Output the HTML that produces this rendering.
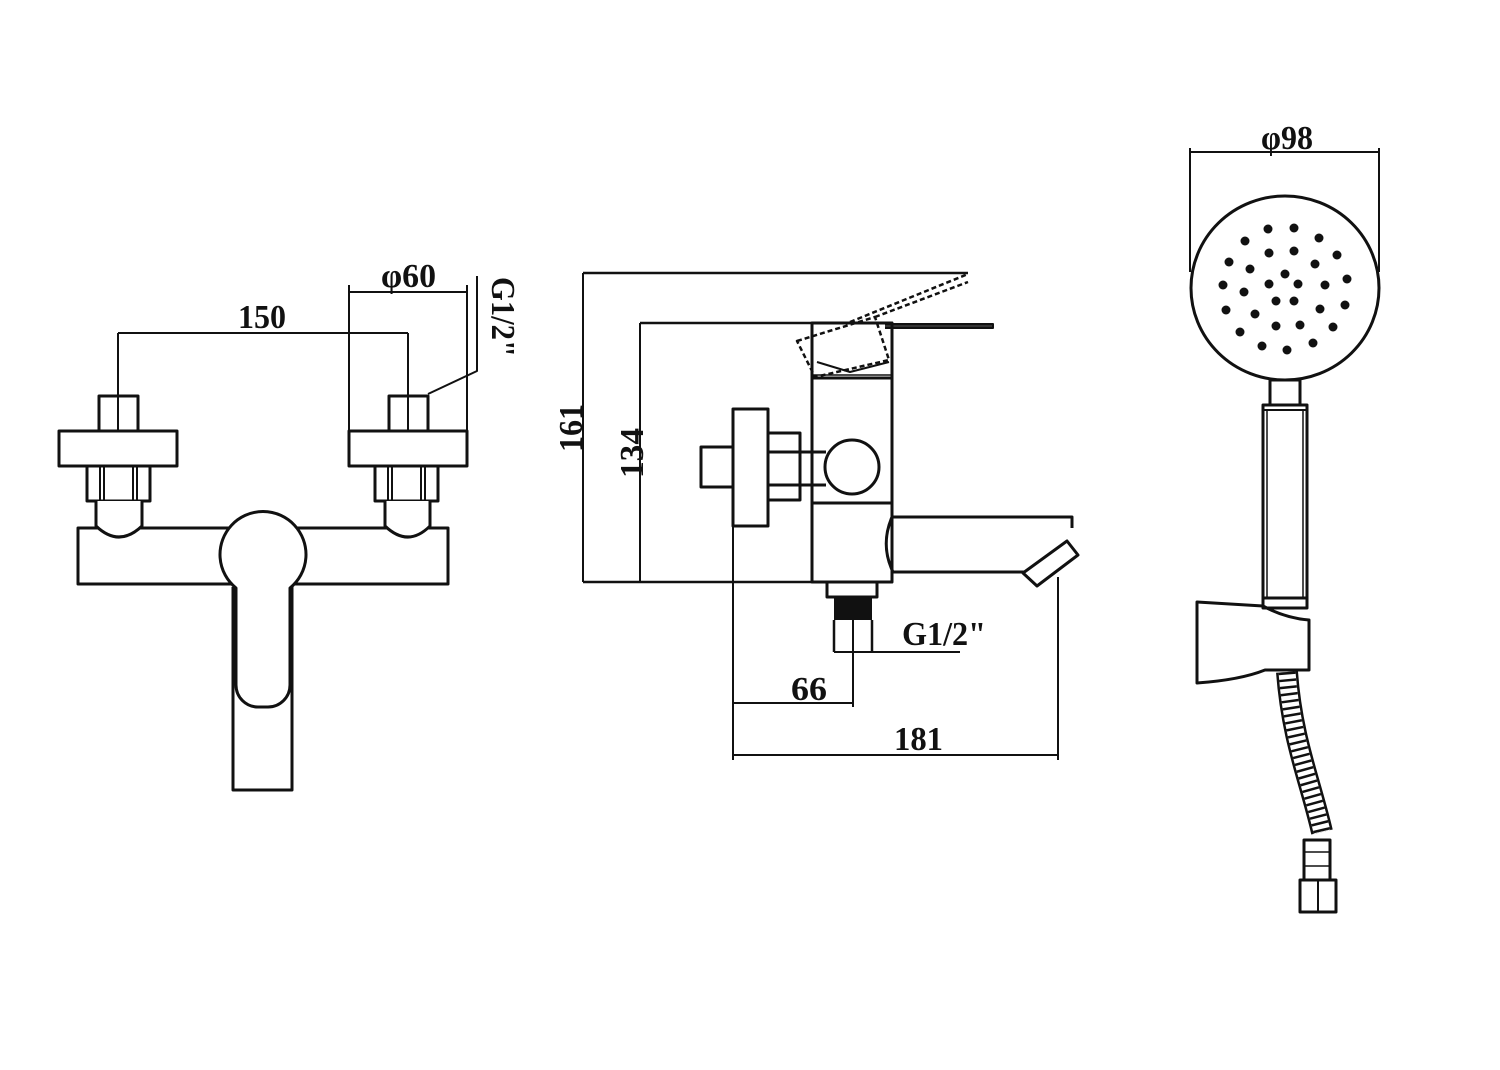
<!DOCTYPE html>
<html><head><meta charset="utf-8"><style>
html,body{margin:0;padding:0;background:#fff;}
svg{display:block}
text{font-family:"Liberation Serif",serif;font-weight:bold;fill:#111;}
</style></head><body>
<svg width="1500" height="1070" viewBox="0 0 1500 1070" xmlns="http://www.w3.org/2000/svg">
<g fill="none" stroke="#111" stroke-width="3" stroke-linejoin="round">
<!-- LEFT VIEW -->
<line x1="118" y1="333" x2="408" y2="333" stroke-width="2"/>
<line x1="118" y1="333" x2="118" y2="431" stroke-width="2"/>
<line x1="408" y1="333" x2="408" y2="431" stroke-width="2"/>
<line x1="349" y1="292" x2="467" y2="292" stroke-width="2"/>
<line x1="349" y1="285" x2="349" y2="431" stroke-width="2"/>
<line x1="467" y1="285" x2="467" y2="431" stroke-width="2"/>
<polyline points="477,276 477,371 428,394" stroke-width="2"/>
<!-- body -->
<path d="M78,528 H448 V584 H78 Z" fill="#fff"/>
<!-- left fitting -->
<rect x="99" y="396" width="39" height="35"/>
<rect x="59" y="431" width="118" height="35"/>
<rect x="87" y="466" width="63" height="35"/>
<line x1="100" y1="466" x2="100" y2="501" stroke-width="2"/><line x1="104" y1="466" x2="104" y2="501" stroke-width="2"/>
<line x1="133" y1="466" x2="133" y2="501" stroke-width="2"/><line x1="137" y1="466" x2="137" y2="501" stroke-width="2"/>
<path d="M96,501 V526 Q119,548 142,526 V501" fill="#fff"/>
<!-- right fitting -->
<rect x="389" y="396" width="39" height="35"/>
<rect x="349" y="431" width="118" height="35"/>
<rect x="375" y="466" width="63" height="35"/>
<line x1="388" y1="466" x2="388" y2="501" stroke-width="2"/><line x1="392" y1="466" x2="392" y2="501" stroke-width="2"/>
<line x1="421" y1="466" x2="421" y2="501" stroke-width="2"/><line x1="425" y1="466" x2="425" y2="501" stroke-width="2"/>
<path d="M385,501 V526 Q408,548 430,526 V501" fill="#fff"/>
<!-- handle -->
<path d="M233,587 V790 H292 V587"/>
<path d="M236,588 A43,43 0 1 1 290,588 V685 A22,22 0 0 1 268,707 H258 A22,22 0 0 1 236,685 Z" fill="#fff"/>
<!-- MIDDLE VIEW -->
<line x1="583" y1="273" x2="968" y2="273" stroke-width="2.5"/>
<line x1="583" y1="273" x2="583" y2="582" stroke-width="2"/>
<line x1="640" y1="323" x2="640" y2="582" stroke-width="2"/>
<line x1="640" y1="323" x2="893" y2="323" stroke-width="2.5"/>
<line x1="583" y1="582" x2="893" y2="582" stroke-width="2.5"/>
<path d="M885,324 H993 V328 H885" fill="#333" stroke-width="2"/>
<rect x="812" y="323" width="80" height="259"/>
<line x1="812" y1="378" x2="892" y2="378"/>
<line x1="812" y1="375" x2="892" y2="375" stroke-width="1.5"/>
<line x1="812" y1="503" x2="892" y2="503"/>
<polyline points="817,362 850,372 889,362" stroke-width="2"/>
<g stroke-dasharray="5,3" stroke-width="2.5">
<polygon points="797,341 875,317 889,360 815,377"/>
<line x1="850" y1="322" x2="968" y2="274"/>
<line x1="875" y1="317" x2="968" y2="282"/>
</g>
<circle cx="852" cy="467" r="27" fill="#fff"/>
<rect x="733" y="409" width="35" height="117"/>
<rect x="768" y="433" width="32" height="67"/>
<line x1="768" y1="452" x2="800" y2="452"/><line x1="768" y1="485" x2="800" y2="485"/>
<line x1="800" y1="452" x2="826" y2="452"/><line x1="800" y1="485" x2="826" y2="485"/>
<rect x="701" y="447" width="32" height="40"/>
<line x1="733" y1="526" x2="733" y2="760" stroke-width="2"/>
<!-- spout -->
<path d="M892,517 H1072 V528 M1025,572 H893 Q880,545 892,517"/>
<polygon points="1023,573 1067,541 1078,555 1037,586" fill="#fff"/>
<line x1="1058" y1="577" x2="1058" y2="760" stroke-width="2"/>
<line x1="733" y1="755" x2="1058" y2="755" stroke-width="2"/>
<!-- bottom fitting -->
<rect x="827" y="582" width="50" height="15"/>
<rect x="834" y="598" width="38" height="22" fill="#111" stroke="none"/>
<path d="M834,620 V652 M872,620 V652" stroke-width="2.5"/>
<line x1="853" y1="620" x2="853" y2="707" stroke-width="2"/>
<line x1="834" y1="652" x2="960" y2="652" stroke-width="2"/>
<line x1="733" y1="703" x2="853" y2="703" stroke-width="2"/>
<!-- RIGHT VIEW -->
<line x1="1190" y1="152" x2="1379" y2="152" stroke-width="2"/>
<line x1="1190" y1="148" x2="1190" y2="272" stroke-width="2"/>
<line x1="1379" y1="148" x2="1379" y2="272" stroke-width="2"/>
<ellipse cx="1285" cy="288" rx="94" ry="92" fill="#fff"/>
<rect x="1270" y="380" width="30" height="25"/>
<rect x="1263" y="405" width="44" height="193"/>
<line x1="1263" y1="410" x2="1307" y2="410" stroke-width="2"/>
<line x1="1267" y1="410" x2="1267" y2="598" stroke-width="1.5"/><line x1="1303" y1="410" x2="1303" y2="598" stroke-width="1.5"/>
<path d="M1197,602 L1263,606 Q1285,618 1309,620 V670 H1265 Q1240,680 1197,683 Z" fill="#fff"/>
<rect x="1263" y="598" width="44" height="10"/>
<path d="M1287,672 C1292,740 1310,780 1322,832" stroke-width="22"/>
<path d="M1287,672 C1292,740 1310,780 1322,832" stroke="#fff" stroke-width="17"/>
<path d="M1287,672 C1292,740 1310,780 1322,832" stroke-width="17" stroke-dasharray="2.5,4.5"/>
<rect x="1304" y="840" width="26" height="40"/>
<line x1="1304" y1="852" x2="1330" y2="852" stroke-width="1.5"/><line x1="1304" y1="866" x2="1330" y2="866" stroke-width="1.5"/>
<rect x="1300" y="880" width="36" height="32"/>
<line x1="1318" y1="880" x2="1318" y2="912" stroke-width="2"/>
</g>
<g fill="#111">
<circle cx="1268" cy="229" r="4.5"/><circle cx="1294" cy="228" r="4.5"/><circle cx="1319" cy="238" r="4.5"/>
<circle cx="1245" cy="241" r="4.5"/><circle cx="1269" cy="253" r="4.5"/><circle cx="1294" cy="251" r="4.5"/>
<circle cx="1337" cy="255" r="4.5"/><circle cx="1229" cy="262" r="4.5"/><circle cx="1250" cy="269" r="4.5"/>
<circle cx="1315" cy="264" r="4.5"/><circle cx="1285" cy="274" r="4.5"/><circle cx="1223" cy="285" r="4.5"/>
<circle cx="1269" cy="284" r="4.5"/><circle cx="1298" cy="284" r="4.5"/><circle cx="1325" cy="285" r="4.5"/>
<circle cx="1347" cy="279" r="4.5"/><circle cx="1244" cy="292" r="4.5"/><circle cx="1276" cy="301" r="4.5"/>
<circle cx="1294" cy="301" r="4.5"/><circle cx="1226" cy="310" r="4.5"/><circle cx="1255" cy="314" r="4.5"/>
<circle cx="1320" cy="309" r="4.5"/><circle cx="1345" cy="305" r="4.5"/><circle cx="1240" cy="332" r="4.5"/>
<circle cx="1276" cy="326" r="4.5"/><circle cx="1300" cy="325" r="4.5"/><circle cx="1333" cy="327" r="4.5"/>
<circle cx="1262" cy="346" r="4.5"/><circle cx="1287" cy="350" r="4.5"/><circle cx="1313" cy="343" r="4.5"/>
</g>
<g font-size="34">
<text x="238" y="328" textLength="48" lengthAdjust="spacingAndGlyphs">150</text>
<text x="381" y="287" textLength="55" lengthAdjust="spacingAndGlyphs">φ60</text>
<text transform="translate(492,277) rotate(90)" textLength="80" lengthAdjust="spacingAndGlyphs">G1/2"</text>
<text transform="translate(582,452) rotate(-90)" textLength="48" lengthAdjust="spacingAndGlyphs">161</text>
<text transform="translate(643,478) rotate(-90)" textLength="50" lengthAdjust="spacingAndGlyphs">134</text>
<text x="902" y="645" textLength="84" lengthAdjust="spacingAndGlyphs">G1/2"</text>
<text x="791" y="700" textLength="36" lengthAdjust="spacingAndGlyphs">66</text>
<text x="894" y="750" textLength="49" lengthAdjust="spacingAndGlyphs">181</text>
<text x="1261" y="149" textLength="52" lengthAdjust="spacingAndGlyphs">φ98</text>
</g>
</svg>
</body></html>
